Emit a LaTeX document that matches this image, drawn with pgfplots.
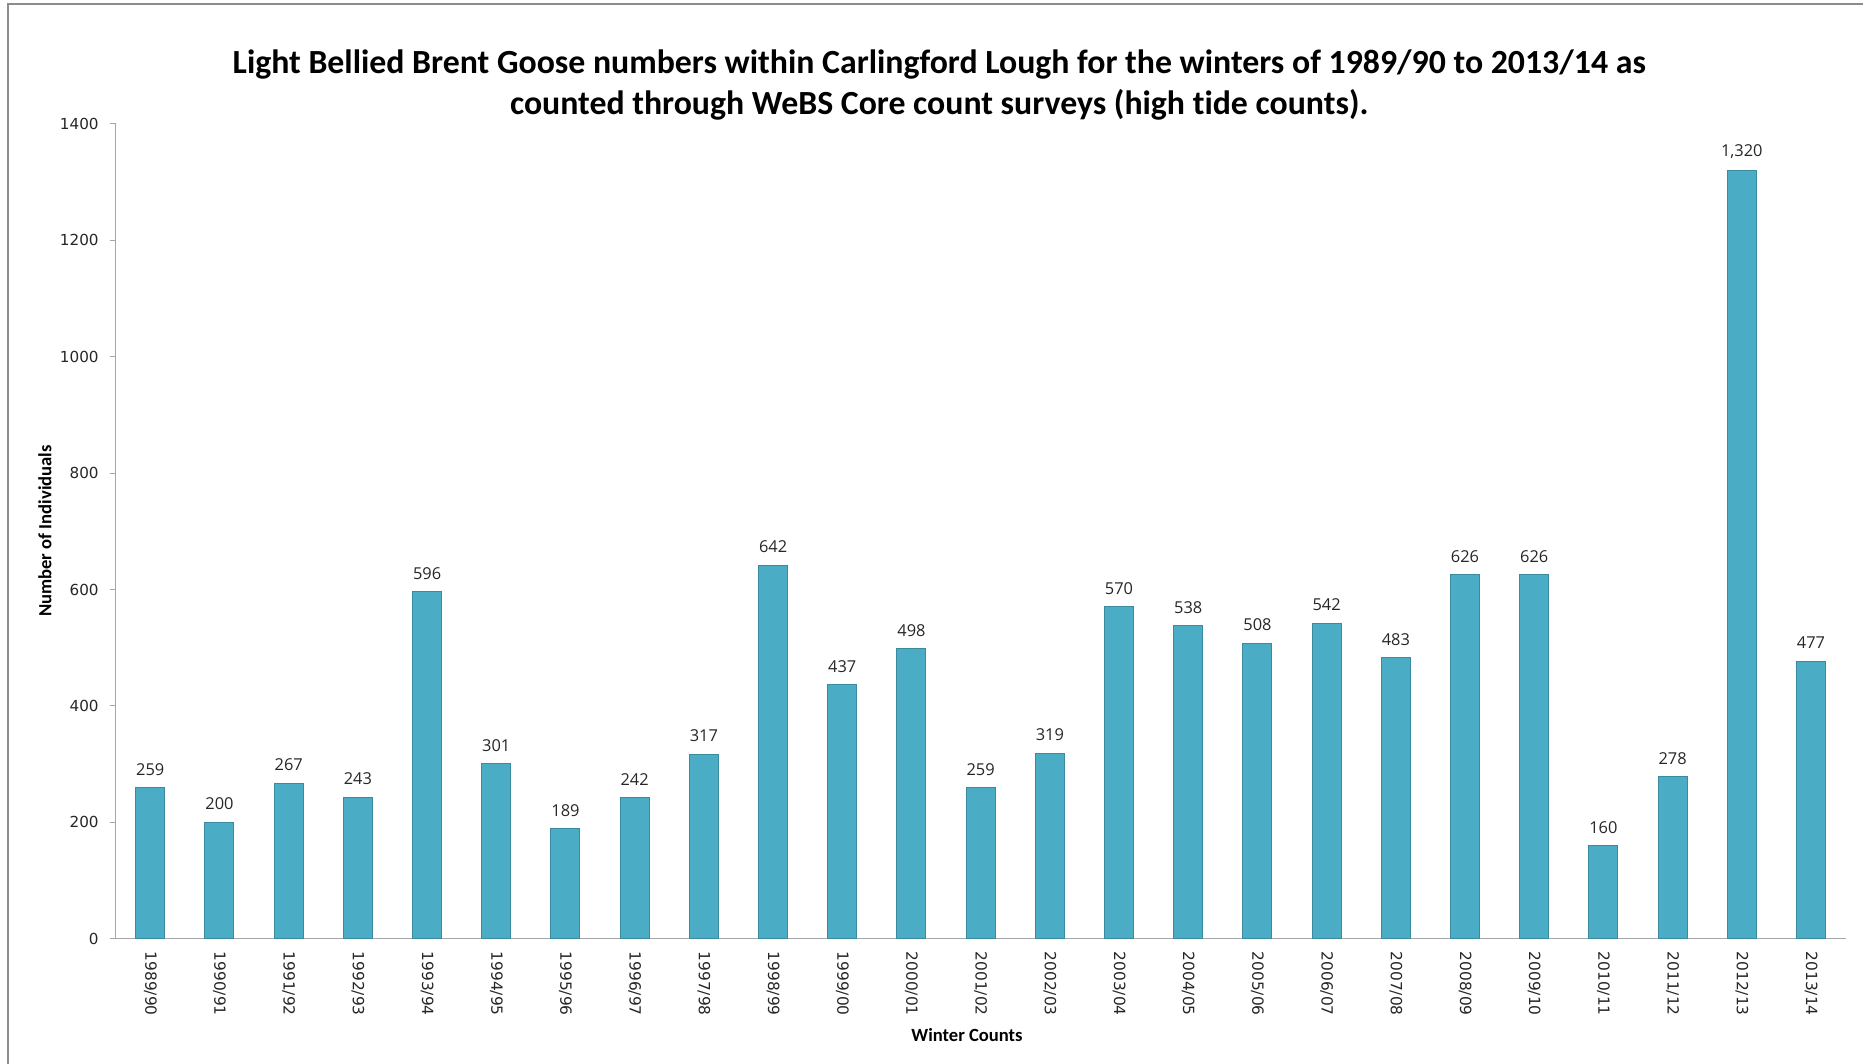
\documentclass[border=0pt]{standalone}
\usepackage{pgfplots}
\pgfplotsset{compat=1.18}
\usepackage{fontspec}
\setmainfont{Open Sans}
\newfontfamily\titlefont[Ligatures=NoCommon]{Carlito}
\newfontfamily\tickfont{DejaVu Sans}
\definecolor{barfill}{HTML}{4BACC6}
\definecolor{baredge}{HTML}{3A8BA0}
\definecolor{axisgray}{HTML}{A6A6A6}
\definecolor{framegray}{HTML}{8C8C8C}
\begin{document}
\begin{tikzpicture}
\useasboundingbox (0,0) rectangle (931.5pt,532pt);
\draw[framegray, line width=0.9pt] (4pt,-20pt) rectangle (960pt,530pt);
\begin{axis}[
  at={(57.85pt,62.65pt)}, anchor=south west,
  scale only axis, width=864.95pt, height=407.35pt,
  xmin=-0.5, xmax=24.5, ymin=0, ymax=1400,
  ytick={0,200,...,1400},
  xtick=data,
  xticklabels={1989/90,1990/91,1991/92,1992/93,1993/94,1994/95,1995/96,1996/97,1997/98,1998/99,1999/00,2000/01,2001/02,2002/03,2003/04,2004/05,2005/06,2006/07,2007/08,2008/09,2009/10,2010/11,2011/12,2012/13,2013/14},
  x tick label style={rotate=-90, anchor=west, font=\tickfont\fontsize{7.7pt}{9pt}\selectfont, text=black!85, xshift=0pt},
  y tick label style={font=\tickfont\fontsize{7.6pt}{9pt}\selectfont, text=black!85, /pgf/number format/1000 sep={}},
  /pgf/number format/assume math mode=true,
  axis x line*=bottom, axis y line*=left,
  axis line style={axisgray, line width=0.6pt},
  x axis line style={-}, y axis line style={-},
  major tick length=3pt,
  xtick style={draw=none},
  ytick style={axisgray, line width=0.5pt},
  tick align=outside,
  yticklabel style={xshift=-2pt},
  clip=false,
]
\addplot[ybar, bar width=14.5pt, fill=barfill, draw=baredge, line width=0.5pt,
  nodes near coords,
  every node near coord/.append style={font=\fontsize{8.2pt}{10pt}\selectfont, text=black!85, yshift=2.5pt,
    /pgf/number format/1000 sep={,}, /pgf/number format/assume math mode=true}]
coordinates {
(0,259) (1,200) (2,267) (3,243) (4,596) (5,301) (6,189) (7,242) (8,317) (9,642)
(10,437) (11,498) (12,259) (13,319) (14,570) (15,538) (16,508) (17,542) (18,483)
(19,626) (20,626) (21,160) (22,278) (23,1320) (24,477)
};
\end{axis}
\node[align=center, font=\titlefont\bfseries\fontsize{16.9pt}{20.5pt}\selectfont] at (469.6pt,489.5pt)
 {Light Bellied Brent Goose numbers within Carlingford Lough for the winters of 1989/90 to 2013/14 as\\counted through WeBS Core count surveys (high tide counts).};
\node[rotate=90, font=\titlefont\bfseries\fontsize{9.3pt}{11pt}\selectfont] at (22.5pt,266.5pt) {Number of Individuals};
\node[font=\titlefont\bfseries\fontsize{9.3pt}{11pt}\selectfont] at (483.5pt,14.5pt) {Winter Counts};
\end{tikzpicture}
\end{document}
